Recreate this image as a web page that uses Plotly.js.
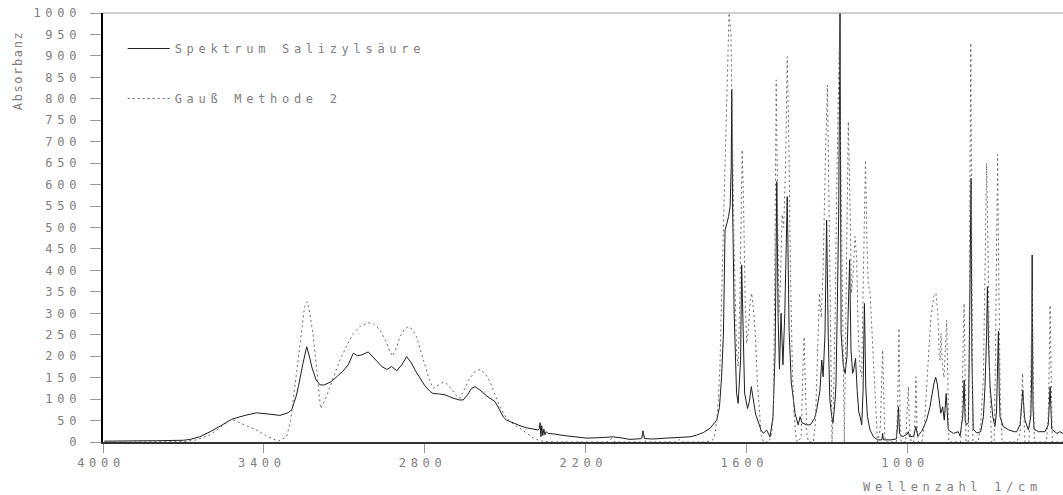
<!DOCTYPE html>
<html>
<head>
<meta charset="utf-8">
<script src="https://cdn.plot.ly/plotly-3.0.1.min.js"></script>
<style>
  html, body { margin: 0; padding: 0; background: #fff; }
  #chart { width: 1063px; height: 495px; }
  .xtick text, .ytick text, .legendtext, .annotation text { letter-spacing: 4.7px; }
  .annotation[data-index="0"] text { letter-spacing: 1.6px; }
</style>
</head>
<body>
<div id="chart"></div>
<script>
// IR spectrum of salicylic acid (measured) and a Gaussian band fit ("Methode 2").
// Wavenumbers in 1/cm, absorbance in arbitrary units (0..1000).

var spectrumWavenumber = [
  3995, 3900, 3800, 3700, 3675, 3640, 3600, 3560, 3520, 3470, 3427, 3380, 3340, 3310, 3296, 3280,
  3271, 3255, 3240, 3228, 3221, 3205, 3190, 3175, 3150, 3128, 3105, 3085, 3066, 3050, 3035, 3010,
  2995, 2979, 2960, 2941, 2923, 2904, 2885, 2867, 2850, 2836, 2815, 2799, 2780, 2768, 2745, 2724,
  2708, 2693, 2670, 2656, 2640, 2625, 2612, 2600, 2593, 2568, 2550, 2537, 2520, 2506, 2494, 2470,
  2444, 2420, 2395, 2376, 2372, 2369, 2366, 2363, 2359, 2355, 2351, 2346, 2340, 2320, 2280, 2240,
  2195, 2150, 2096, 2060, 2034, 1990, 1985, 1980, 1948, 1900, 1847, 1810, 1785, 1760, 1735, 1720,
  1710, 1700, 1692, 1685, 1679, 1672, 1666, 1660, 1656, 1654, 1651, 1645, 1640, 1636, 1630, 1621,
  1617, 1612, 1606, 1595, 1588, 1581, 1574, 1565, 1555, 1545, 1536, 1524, 1511, 1500, 1492, 1486,
  1481, 1476, 1470, 1463, 1456, 1447, 1440, 1432, 1424, 1418, 1406, 1399, 1392, 1375, 1361, 1345,
  1337, 1325, 1318, 1313, 1306, 1300, 1294, 1288, 1281, 1276, 1268, 1265, 1260, 1255, 1250, 1246,
  1238, 1231, 1224, 1218, 1214, 1209, 1203, 1199, 1192, 1186, 1180, 1175, 1169, 1164, 1159, 1154,
  1148, 1138, 1125, 1110, 1094, 1091, 1088, 1060, 1040, 1035, 1032, 1028, 1018, 1000, 995, 990,
  975, 967, 960, 945, 927, 915, 908, 900, 893, 887, 883, 874, 867, 861, 854, 846,
  827, 809, 802, 796, 792, 787, 783, 778, 771, 767, 763, 761, 758, 753, 740, 725,
  715, 709, 703, 700, 696, 690, 680, 672, 666, 662, 659, 656, 653, 641, 620, 600,
  591, 578, 572, 568, 563, 560, 547, 538, 535, 533, 530, 526, 510, 485, 473, 469,
  466, 462, 460, 441, 430, 418
];
var spectrumAbsorbance = [
  2, 2, 3, 4, 6, 12, 24, 38, 53, 62, 68, 65, 62, 68, 75, 105,
  129, 180, 222, 195, 175, 145, 133, 133, 140, 152, 165, 180, 207, 201, 203, 210,
  200, 187, 176, 169, 176, 166, 180, 199, 185, 168, 148, 131, 118, 113, 112, 110,
  106, 102, 98, 98, 110, 125, 129, 125, 121, 107, 100, 94, 75, 58, 51, 44,
  38, 33, 30, 28, 31, 45, 12, 38, 15, 30, 17, 24, 20, 19, 15, 12,
  9, 10, 12, 9, 6, 8, 26, 8, 7, 9, 10, 12, 16, 22, 32, 45,
  51, 80, 150, 254, 494, 510, 525, 549, 640, 822, 560, 300, 160, 114, 90, 191,
  413, 253, 114, 78, 95, 129, 98, 65, 47, 28, 20, 28, 12, 59, 214, 607,
  290, 170, 300, 180, 300, 572, 260, 140, 100, 67, 40, 59, 45, 40, 40, 55,
  75, 120, 191, 152, 253, 517, 250, 100, 59, 45, 100, 137, 316, 530, 1000, 254,
  180, 160, 200, 330, 425, 214, 160, 168, 195, 120, 70, 59, 40, 120, 323, 130,
  60, 28, 12, 5, 5, 20, 5, 5, 7, 40, 82, 20, 12, 18, 24, 12,
  14, 36, 14, 25, 51, 80, 106, 135, 151, 135, 114, 67, 82, 51, 113, 28,
  20, 24, 14, 40, 60, 144, 50, 40, 45, 250, 480, 615, 200, 30, 21, 24,
  59, 129, 250, 362, 230, 129, 59, 36, 70, 180, 258, 120, 59, 36, 28, 24,
  24, 40, 80, 121, 70, 51, 28, 60, 150, 436, 80, 30, 24, 24, 40, 80,
  129, 60, 30, 20, 24, 20
];

var gaussWavenumber = [
  3995, 3800, 3700, 3650, 3600, 3560, 3520, 3480, 3427, 3390, 3346, 3315, 3300, 3284, 3270, 3259,
  3248, 3238, 3228, 3215, 3200, 3188, 3170, 3153, 3135, 3116, 3090, 3066, 3040, 3010, 2990, 2966,
  2945, 2930, 2919, 2905, 2892, 2875, 2861, 2845, 2830, 2815, 2799, 2785, 2768, 2750, 2735, 2724,
  2705, 2685, 2668, 2650, 2631, 2612, 2593, 2575, 2556, 2540, 2519, 2494, 2470, 2444, 2420, 2394,
  2370, 2350, 2300, 2120, 2102, 2090, 1995, 1984, 1975, 1860, 1850, 1840, 1750, 1725, 1716, 1710,
  1703, 1698, 1692, 1682, 1673, 1664, 1657, 1652, 1645, 1636, 1630, 1624, 1619, 1615, 1610, 1604,
  1598, 1592, 1585, 1580, 1573, 1566, 1558, 1550, 1544, 1536, 1515, 1505, 1499, 1494, 1488, 1482,
  1478, 1473, 1466, 1460, 1453, 1447, 1441, 1435, 1428, 1422, 1416, 1410, 1395, 1388, 1384, 1380,
  1374, 1368, 1350, 1342, 1335, 1327, 1320, 1313, 1305, 1297, 1290, 1284, 1280, 1275, 1268, 1262,
  1253, 1246, 1240, 1234, 1228, 1223, 1219, 1213, 1207, 1200, 1194, 1188, 1182, 1175, 1169, 1164,
  1159, 1155, 1150, 1145, 1138, 1130, 1125, 1115, 1110, 1100, 1094, 1091, 1088, 1083, 1078, 1040,
  1035, 1030, 1026, 1022, 1005, 1000, 995, 991, 985, 975, 970, 967, 963, 958, 945, 935,
  927, 918, 911, 900, 892, 885, 880, 876, 873, 868, 862, 856, 852, 848, 844, 800,
  795, 790, 787, 783, 780, 772, 768, 765, 762, 758, 754, 735, 725, 715, 708, 703,
  698, 692, 685, 675, 670, 666, 662, 658, 652, 645, 590, 578, 573, 569, 565, 560,
  545, 540, 536, 533, 530, 525, 480, 473, 469, 466, 462, 458, 418
];
var gaussAbsorbance = [
  0, 0, 1, 5, 17, 35, 53, 42, 28, 14, 2, 12, 50, 129, 200, 269,
  315, 327, 300, 245, 160, 78, 100, 129, 160, 191, 225, 253, 270, 278, 275, 261,
  235, 212, 200, 220, 245, 263, 269, 262, 245, 215, 183, 150, 125, 133, 138, 139,
  128, 110, 102, 125, 148, 165, 169, 160, 141, 115, 82, 55, 42, 32, 20, 9,
  3, 1, 0, 0, 8, 0, 0, 22, 0, 0, 6, 0, 0, 5, 20, 51,
  110, 176, 331, 549, 758, 1000, 952, 720, 450, 210, 176, 330, 560, 681, 560, 330,
  230, 260, 330, 347, 310, 250, 137, 59, 15, 0, 0, 20, 59, 350, 844, 500,
  300, 360, 530, 500, 650, 898, 700, 400, 176, 75, 20, 0, 10, 180, 245, 150,
  20, 0, 0, 40, 200, 347, 290, 400, 650, 832, 500, 150, 0, 80, 300, 600,
  915, 600, 250, 0, 300, 650, 747, 560, 347, 400, 479, 430, 250, 170, 152, 350,
  560, 657, 480, 370, 347, 250, 176, 40, 0, 30, 150, 214, 140, 10, 0, 0,
  80, 265, 60, 0, 0, 60, 129, 40, 0, 0, 60, 152, 40, 0, 0, 40,
  137, 220, 290, 340, 347, 300, 200, 190, 254, 180, 150, 230, 284, 150, 0, 0,
  60, 250, 323, 150, 0, 0, 200, 620, 930, 400, 0, 0, 40, 150, 400, 650,
  450, 150, 0, 0, 200, 460, 670, 400, 100, 0, 0, 20, 90, 160, 80, 0,
  0, 80, 250, 355, 200, 0, 0, 60, 200, 319, 150, 0, 0
];

var xTickValues = [4000, 3400, 2800, 2200, 1600, 1000];
var xTickLabels = ['4000', '3400', '2800', '2200', '1600', '1000'];
var seriesNames = ['Spektrum Salizylsäure', 'Gauß Methode 2'];

var labelFont = {family: 'DejaVu Sans Mono, monospace', size: 12, color: '#808080'};

var traces = [
  {
    x: spectrumWavenumber, y: spectrumAbsorbance,
    type: 'scatter', mode: 'lines', name: seriesNames[0],
    legendgroup: 'g1',
    line: {color: '#1e1e1e', width: 1}
  },
  {
    x: gaussWavenumber, y: gaussAbsorbance,
    type: 'scatter', mode: 'lines', name: seriesNames[1],
    legendgroup: 'g2',
    line: {color: '#6a6a6a', width: 1, dash: '2px,3px'}
  }
];

var layout = {
  width: 1063, height: 495,
  margin: {l: 103, r: 0, t: 13, b: 53, pad: 0},
  paper_bgcolor: '#ffffff', plot_bgcolor: '#ffffff',
  font: labelFont,
  showlegend: true,
  hovermode: false,
  legend: {
    x: 0.0205, y: 0.951, xanchor: 'left', yanchor: 'top',
    bgcolor: 'rgba(0,0,0,0)', borderwidth: 0,
    traceorder: 'grouped', tracegroupgap: 31,
    itemwidth: 42,
    font: labelFont
  },
  xaxis: {
    range: [4000, 418],
    tickmode: 'array', tickvals: xTickValues, ticktext: xTickLabels,
    ticks: 'outside', ticklen: 9, tickwidth: 1, tickcolor: '#9a9a9a',
    ticklabelshift: 2,
    showgrid: false, zeroline: false,
    showline: true, linecolor: '#333333', linewidth: 1.5,
    tickfont: labelFont
  },
  yaxis: {
    range: [0, 1000], tick0: 0, dtick: 50,
    ticks: 'outside', ticklen: 11, tickwidth: 1, tickcolor: '#9a9a9a',
    ticklabelstandoff: 6,
    showgrid: false, zeroline: false,
    showline: true, linecolor: '#000000', linewidth: 2.5,
    tickfont: labelFont
  },
  shapes: [
    {type: 'line', xref: 'paper', yref: 'paper', x0: 0, x1: 1, y0: 1, y1: 1,
     line: {color: '#a0a0a0', width: 1}}
  ],
  annotations: [
    {text: 'Absorbanz', xref: 'paper', yref: 'paper', x: -0.0885, y: 0.865,
     xanchor: 'center', yanchor: 'middle', textangle: -90, showarrow: false, font: labelFont},
    {text: 'Wellenzahl 1/cm', xref: 'paper', yref: 'paper', x: 0.7896, y: -0.105,
     xanchor: 'left', yanchor: 'middle', align: 'left', showarrow: false, font: labelFont}
  ]
};

Plotly.newPlot('chart', traces, layout, {staticPlot: true, displayModeBar: false});
</script>
</body>
</html>
